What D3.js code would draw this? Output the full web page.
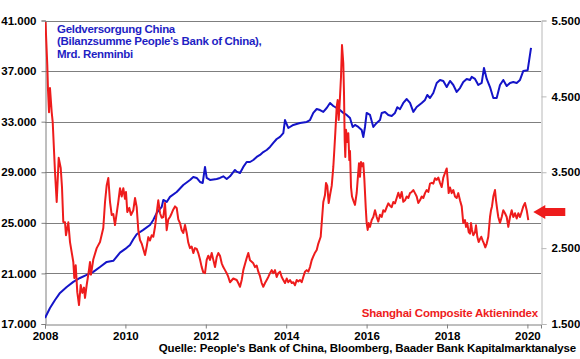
<!DOCTYPE html>
<html><head><meta charset="utf-8">
<script src="https://cdn.jsdelivr.net/npm/d3@7"></script>
<style>
html,body{margin:0;padding:0;background:#fff;}
text{font-family:Arial,"Liberation Sans",sans-serif;font-weight:bold;}
</style></head>
<body>
<svg id="chart" width="580" height="359"></svg>
<script>
// ---------- DATA ----------
const xTickYears = [2008, 2010, 2012, 2014, 2016, 2018, 2020];
const leftTicks = [17000, 21000, 25000, 29000, 33000, 37000, 41000];
const rightTicks = [1500, 2500, 3500, 4500, 5500];

const titleLines = ["Geldversorgung China", "(Bilanzsumme People's Bank of China),", "Mrd. Renminbi"];
const redLabel = "Shanghai Composite Aktienindex";
const sourceText = "Quelle: People's Bank of China, Bloomberg, Baader Bank Kapitalmarktanalyse";

// PBoC balance sheet total (bn RMB), decimal years
const pbocYears = [2008.000,2008.124,2008.249,2008.373,2008.540,2008.704,2008.871,2009.037,2009.201,2009.368,2009.535,2009.699,2009.866,
2010.032,2010.114,2010.197,2010.281,2010.445,2010.612,2010.694,2010.779,2010.903,2010.943,2011.027,2011.109,2011.276,2011.440,2011.607,2011.689,2011.774,2011.856,2011.923,2011.980,
2012.022,2012.104,2012.271,2012.353,2012.435,2012.520,2012.602,2012.726,2012.769,2012.851,2012.933,2013.017,2013.100,2013.182,2013.266,2013.348,2013.430,2013.515,2013.597,2013.679,2013.764,2013.846,2013.928,2013.970,
2014.052,2014.177,2014.343,2014.510,2014.592,2014.674,2014.759,2014.841,2014.923,2015.007,2015.090,2015.172,2015.256,2015.338,2015.420,2015.505,2015.587,2015.654,2015.711,2015.794,2015.878,2015.918,2015.960,
2016.002,2016.085,2016.167,2016.251,2016.333,2016.376,2016.458,2016.540,2016.624,2016.706,2016.764,2016.831,2016.913,2016.998,2017.080,2017.162,2017.246,2017.371,2017.453,2017.510,2017.577,2017.659,2017.744,2017.826,2017.908,2017.993,
2018.075,2018.157,2018.241,2018.323,2018.405,2018.490,2018.572,2018.614,2018.697,2018.779,2018.863,2018.920,2018.988,2019.070,2019.152,2019.236,2019.318,2019.400,2019.485,2019.567,2019.649,2019.734,2019.816,2019.898,2020.007,2020.090];
const pbocValues = [17480,18270,18900,19460,19930,20330,20640,20880,21120,21510,21910,22000,22640,
23020,23250,23700,24100,24440,24830,25230,25780,26260,26810,26650,27050,27440,27990,28390,28630,28550,28230,28150,29420,
28550,28390,28470,28550,28680,28470,28680,29180,29050,28940,29420,29810,29810,29970,30210,30370,30600,30760,31000,31320,31630,31800,32100,33130,
32500,32740,32900,32980,33130,33690,34000,33920,33770,34080,34480,34240,34080,33920,33690,33530,33290,32580,32740,32580,32340,31790,32580,
33690,33530,32580,32900,33130,33690,33770,33530,33450,33690,34140,33990,34480,34790,34480,33770,34160,34480,34720,35110,34870,35270,36060,36300,36220,35740,
36220,35900,35350,35660,36140,36380,36300,36540,36380,35900,36060,37250,36380,35740,34870,34870,35900,36300,35820,36060,36140,36060,36300,37010,37070,38830];

// Shanghai Composite index, decimal years
const sseYears = [2008.012,2008.057,2008.075,2008.100,2008.124,2008.167,2008.192,2008.249,2008.291,2008.341,2008.391,2008.423,2008.455,2008.498,2008.522,2008.580,2008.622,2008.704,2008.729,2008.764,2008.803,2008.846,2008.888,2008.928,2008.970,2008.995,
2009.037,2009.087,2009.119,2009.144,2009.201,2009.286,2009.368,2009.450,2009.493,2009.535,2009.575,2009.617,2009.659,2009.699,2009.741,2009.784,2009.823,2009.866,2009.908,2009.948,2009.990,
2010.015,2010.047,2010.097,2010.139,2010.197,2010.239,2010.281,2010.321,2010.363,2010.405,2010.488,2010.530,2010.570,2010.612,2010.654,2010.694,2010.736,2010.779,2010.818,2010.861,2010.903,2010.943,2010.985,
2011.027,2011.067,2011.109,2011.152,2011.192,2011.234,2011.276,2011.316,2011.358,2011.400,2011.440,2011.483,2011.525,2011.565,2011.607,2011.649,2011.689,2011.731,2011.774,2011.813,2011.856,2011.898,2011.938,2011.980,
2012.022,2012.062,2012.104,2012.147,2012.187,2012.229,2012.271,2012.311,2012.353,2012.396,2012.435,2012.478,2012.520,2012.560,2012.602,2012.684,2012.769,2012.808,2012.851,2012.893,2012.933,2012.975,
2013.017,2013.057,2013.100,2013.142,2013.182,2013.224,2013.266,2013.306,2013.348,2013.391,2013.430,2013.473,2013.515,2013.555,2013.597,2013.639,2013.679,2013.721,2013.764,2013.803,2013.846,2013.888,2013.928,2013.970,
2014.012,2014.052,2014.095,2014.137,2014.177,2014.219,2014.261,2014.301,2014.343,2014.386,2014.425,2014.468,2014.510,2014.550,2014.592,2014.634,2014.674,2014.716,2014.759,2014.799,2014.858,2014.883,2014.923,2014.965,2014.990,
2015.022,2015.057,2015.090,2015.132,2015.172,2015.197,2015.221,2015.256,2015.281,2015.306,2015.338,2015.363,2015.388,2015.420,2015.438,2015.455,2015.470,2015.488,2015.520,2015.545,2015.570,2015.587,2015.612,2015.637,2015.669,2015.711,2015.754,2015.778,2015.811,2015.836,2015.861,2015.893,2015.918,2015.943,2015.978,
2016.002,2016.027,2016.052,2016.085,2016.127,2016.167,2016.209,2016.251,2016.291,2016.333,2016.376,2016.415,2016.458,2016.500,2016.540,2016.582,2016.624,2016.664,2016.706,2016.749,2016.789,2016.831,2016.873,2016.913,2016.955,2016.998,
2017.037,2017.080,2017.122,2017.162,2017.204,2017.246,2017.286,2017.328,2017.371,2017.410,2017.453,2017.495,2017.535,2017.577,2017.619,2017.659,2017.701,2017.744,2017.784,2017.826,2017.868,2017.908,2017.950,2017.993,
2018.017,2018.042,2018.075,2018.117,2018.157,2018.199,2018.241,2018.281,2018.323,2018.366,2018.405,2018.448,2018.473,2018.505,2018.540,2018.572,2018.597,2018.622,2018.654,2018.697,2018.721,2018.754,2018.788,2018.821,2018.853,2018.888,2018.920,2018.953,2018.988,
2019.027,2019.070,2019.095,2019.119,2019.152,2019.194,2019.219,2019.251,2019.276,2019.318,2019.361,2019.400,2019.443,2019.485,2019.525,2019.567,2019.609,2019.649,2019.692,2019.734,2019.774,2019.816,2019.858,2019.898,2019.940,2019.983,2020.022];
const sseValues = [5480,4913,4580,4290,4610,4290,4160,3500,3108,3690,3556,3300,2844,2840,2670,2840,2580,2317,2106,2275,1920,1750,2014,1910,1980,1843,
2014,2185,2317,2150,2350,2500,2580,2765,3108,3330,3424,3108,2937,2950,2805,2960,3108,3290,3180,3290,3150,
3240,2976,3030,2937,3000,3160,3040,2736,2607,2560,2410,2520,2645,2600,2670,2650,2778,2963,3130,2960,2900,2910,3094,
2736,2880,2910,2960,3010,3050,3030,2880,2830,2736,2700,2805,2700,2570,2500,2520,2435,2500,2490,2435,2350,2250,2180,2170,
2345,2400,2345,2435,2345,2250,2380,2435,2400,2300,2250,2210,2170,2120,2050,2100,2080,2040,1990,2080,2210,2290,
2370,2435,2340,2320,2300,2250,2270,2190,2130,2040,1990,2040,2080,2120,2170,2210,2170,2210,2120,2170,2190,2120,2080,2040,
2100,2050,2080,2040,2050,2010,2080,2060,2080,2050,2120,2190,2210,2190,2250,2340,2390,2440,2475,2560,2650,2830,3108,3200,3358,
3320,3094,3200,3320,3570,3793,4015,4360,4453,4190,4490,4755,5177,4940,4540,3925,3700,4060,3900,4015,3660,3780,3305,3180,3130,3070,3230,3400,3620,3440,3635,3580,3620,3420,3040,
2830,2740,2830,2780,2870,2910,3000,2910,2850,2940,2910,3000,2980,3040,3090,3060,3040,3108,3090,3160,3230,3160,3240,3110,3130,3180,
3160,3225,3240,3265,3225,3180,3095,3130,3180,3160,3225,3265,3240,3350,3360,3350,3420,3400,3430,3360,3305,3430,3490,3550,
3400,3225,3300,3225,3265,3180,3160,3225,3130,3050,2830,2870,2780,2830,2710,2690,2830,2740,2670,2710,2800,2650,2580,2620,2650,2600,2560,2510,2560,
2650,2910,3000,3050,3180,3265,3130,3000,2910,2830,2910,3000,2960,2910,2780,2910,3000,2910,2960,2890,2960,2910,2980,3050,3095,3000,2870];

// ---------- LAYOUT ----------
const plot = {left: 45, right: 541, top: 20.5, bottom: 324};
const BLUE = "#1414c8", RED = "#ee1c1c", GRID = "#7f7f7f";

const deLocale = d3.formatLocale({decimal: ",", thousands: ".", grouping: [3], currency: ["", " €"]});
const fmt = deLocale.format(",.0f");

const svg = d3.select("#chart");
const x = d3.scaleLinear().domain([2008, 2008 + (plot.right - plot.left) / 40.2]).range([plot.left, plot.right]);
const yL = d3.scaleLinear().domain([17000, 41000]).range([plot.bottom, plot.top]);
const yR = d3.scaleLinear().domain([1500, 5500]).range([plot.bottom, plot.top]);

// gridlines
svg.append("g").selectAll("line").data(leftTicks.slice(1)).join("line")
  .attr("x1", plot.left).attr("x2", plot.right)
  .attr("y1", d => Math.round(yL(d)) + 0.5).attr("y2", d => Math.round(yL(d)) + 0.5)
  .attr("stroke", GRID).attr("stroke-width", 1);

// axes
const axL = svg.append("g").attr("transform", `translate(${plot.left + 0.5},0)`)
  .call(d3.axisLeft(yL).tickValues(leftTicks).tickFormat(fmt).tickSize(4).tickPadding(5));
const axR = svg.append("g").attr("transform", `translate(${plot.right + 0.5},0)`)
  .call(d3.axisRight(yR).tickValues(rightTicks).tickFormat(fmt).tickSize(5).tickPadding(5));
const axB = svg.append("g").attr("transform", `translate(0,${Math.round(plot.bottom) + 0.5})`)
  .call(d3.axisBottom(x).tickValues(xTickYears).tickFormat(d3.format("d")).tickSize(4).tickPadding(3));
[axL, axR, axB].forEach(a => {
  a.selectAll("path").attr("stroke", GRID);
  a.selectAll("line").attr("stroke", GRID);
  a.selectAll("text").attr("fill", "#000").attr("font-size", "11.5px")
    .attr("font-family", "Arial, 'Liberation Sans', sans-serif").attr("font-weight", "bold");
});
axR.selectAll("path").attr("stroke", "#b8b8b8");
axR.selectAll("line").attr("stroke", "#b8b8b8");

// clip
svg.append("clipPath").attr("id", "clip").append("rect")
  .attr("x", plot.left).attr("y", plot.top - 1).attr("width", plot.right - plot.left).attr("height", plot.bottom - plot.top + 1);

// lines
const blueLine = d3.line().x((d, i) => x(pbocYears[i])).y(d => yL(d));
const redLine = d3.line().x((d, i) => x(sseYears[i])).y(d => yR(d));

svg.append("path").datum(pbocValues).attr("d", blueLine)
  .attr("fill", "none").attr("stroke", BLUE).attr("stroke-width", 2).attr("stroke-linejoin", "round")
  .attr("clip-path", "url(#clip)");
svg.append("path").datum(sseValues).attr("d", redLine)
  .attr("fill", "none").attr("stroke", RED).attr("stroke-width", 2).attr("stroke-linejoin", "round")
  .attr("clip-path", "url(#clip)");

// title (blue)
const t = svg.append("text").attr("x", 57).attr("y", 33).attr("fill", "#1f1fc4")
  .attr("font-size", "11.5px").attr("letter-spacing", "-0.3px");
titleLines.forEach((s, i) => t.append("tspan").attr("x", 57).attr("y", 33 + i * 12.3).text(s));

// red label
svg.append("text").attr("x", 538).attr("y", 317).attr("text-anchor", "end")
  .attr("fill", RED).attr("font-size", "11.5px").attr("letter-spacing", "-0.2px").text(redLabel);

// source
svg.append("text").attr("x", 576).attr("y", 352).attr("text-anchor", "end")
  .attr("fill", "#000").attr("font-size", "11.5px").attr("letter-spacing", "-0.15px").text(sourceText);

// arrow pointing at the last index value
const lastVal = sseValues[sseValues.length - 1];
const ay = yR(lastVal) - 8;
const ax = x(sseYears[sseYears.length - 1]) + 5;
svg.append("path")
  .attr("d", `M${ax},${ay} L${ax + 12},${ay - 7} L${ax + 12},${ay - 4} L${ax + 32},${ay - 4} L${ax + 32},${ay + 4} L${ax + 12},${ay + 4} L${ax + 12},${ay + 7} Z`)
  .attr("fill", RED);
</script>
</body></html>
